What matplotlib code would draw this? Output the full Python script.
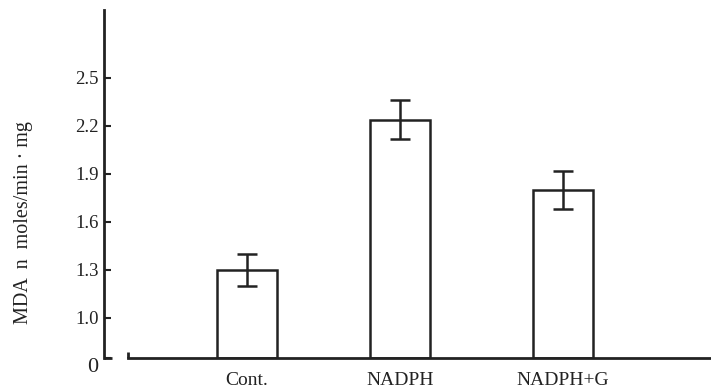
import matplotlib
matplotlib.use("Agg")
import matplotlib.pyplot as plt

categories = ["Cont.", "NADPH", "NADPH+G"]
positions = [0.0, 0.97, 2.0]
values = [1.30, 2.24, 1.80]
errors = [0.10, 0.12, 0.12]
ytick_values = [0.75, 1.0, 1.3, 1.6, 1.9, 2.2, 2.5]
ytick_labels = ["0", "1.0", "1.3", "1.6", "1.9", "2.2", "2.5"]

plt.rcParams["font.family"] = ["Liberation Serif", "DejaVu Serif"]
ink = "#222222"

fig = plt.figure(figsize=(7.11, 3.92), dpi=100)
ax = fig.add_axes([104 / 711, 1 - 358 / 392, 1 - 104 / 711, (358 - 10) / 392])

ybase = 0.75
ax.set_ylim(ybase, 2.925)
ax.set_xlim(-0.905, 2.937)

heights = [v - ybase for v in values]
ax.bar(positions, heights, bottom=ybase, width=0.38, facecolor="white",
       edgecolor=ink, linewidth=1.8, zorder=2)
ax.errorbar(positions, values, yerr=errors, fmt="none", ecolor=ink,
            elinewidth=1.8, capsize=7, capthick=1.8, zorder=3)

for side in ["top", "right"]:
    ax.spines[side].set_visible(False)
for side in ["left", "bottom"]:
    ax.spines[side].set_linewidth(2)
    ax.spines[side].set_color(ink)
ax.spines["bottom"].set_bounds(-0.753, 2.937)

# break marks near the origin
ax.plot([0, 0.013], [0, 0], transform=ax.transAxes, color=ink,
        linewidth=2, clip_on=False, solid_capstyle="butt")
ax.plot([0.039, 0.039], [0, 0.018], transform=ax.transAxes, color=ink,
        linewidth=2, clip_on=False, solid_capstyle="butt")

ax.set_yticks(ytick_values)
ax.set_yticklabels(ytick_labels, fontsize=13.5, color=ink)
ax.tick_params(axis="y", direction="in", length=5, width=1.5, pad=4, colors=ink)
ax.set_xticks(positions)
ax.set_xticklabels(categories, fontsize=14, color=ink)
ax.tick_params(axis="x", length=0, pad=10)
ax.get_yticklabels()[0].set_fontsize(16)
ax.get_yticklabels()[0].set_va("top")

ax.set_ylabel("MDA  n  moles/min · mg", fontsize=14.5, color=ink)
ax.yaxis.set_label_coords(-0.117, 0.39)

fig.savefig("out.png", dpi=100)
